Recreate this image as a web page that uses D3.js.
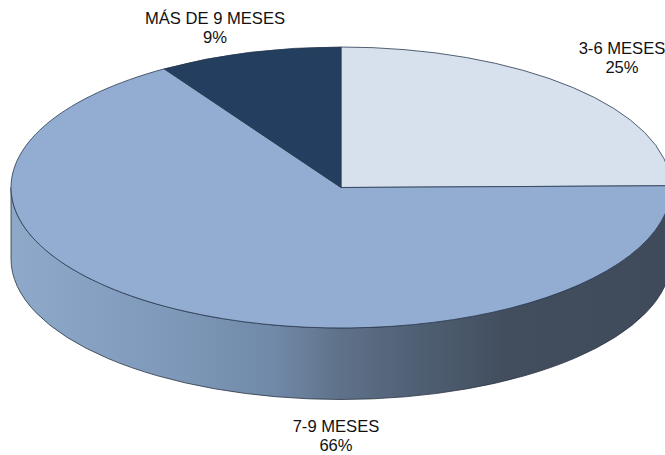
<!DOCTYPE html>
<html><head><meta charset="utf-8">
<script src="https://cdn.jsdelivr.net/npm/d3@7"></script>
<style>html,body{margin:0;padding:0;background:#fff;overflow:hidden}svg{display:block}</style>
</head><body><svg id="c" width="665" height="455"></svg>
<script>
const categories = ["3-6 MESES","7-9 MESES","MÁS DE 9 MESES"];
const values = [24.8,66.2,9];
const labels = ["25%","66%","9%"];
const colors = ["#d7e1ee","#92acd2","#233e5f"];
const wallStops = [[0,"#8fa9cb"],[0.25,"#7e98b9"],[0.4,"#7089a8"],[0.5,"#5f7189"],[0.62,"#4f5f73"],[0.75,"#424e5e"],[1,"#3f4a5a"]];
const labelPos = [[622,54],[336,432],[215,24]];

const cx=341, cy=187.5, rx=330, ry=140.5, depth=71.5;
const svg=d3.select("#c");
const defs=svg.append("defs");
const g=defs.append("linearGradient").attr("id","wall").attr("gradientUnits","userSpaceOnUse")
  .attr("x1",cx-rx).attr("x2",cx+rx).attr("y1",0).attr("y2",0);
wallStops.forEach(s=>g.append("stop").attr("offset",s[0]).attr("stop-color",s[1]));

svg.append("path")
  .attr("d",`M${cx-rx},${cy}A${rx},${ry} 0 0 0 ${cx+rx},${cy}L${cx+rx},${cy+depth}A${rx},${ry} 0 0 1 ${cx-rx},${cy+depth}Z`)
  .attr("fill","url(#wall)").attr("stroke","#2a3340").attr("stroke-width",0.8);

const pie=d3.pie().sort(null)(values);
const arc=d3.arc().innerRadius(0).outerRadius(rx);
svg.append("g").attr("transform",`translate(${cx},${cy}) scale(1,${ry/rx})`)
  .selectAll("path").data(pie).join("path")
  .attr("d",arc).attr("fill",(d,i)=>colors[i])
  .attr("stroke","#2a3a50").attr("stroke-width",0.8).attr("vector-effect","non-scaling-stroke");

const t=svg.append("g").attr("font-family","'Liberation Sans',Arial,sans-serif").attr("font-size",16.6).attr("fill","#111").attr("text-anchor","middle");
categories.forEach((c,i)=>{
  const [x,y]=labelPos[i];
  t.append("text").attr("x",x).attr("y",y).text(c);
  t.append("text").attr("x",x).attr("y",y+19).text(labels[i]);
});
</script></body></html>
